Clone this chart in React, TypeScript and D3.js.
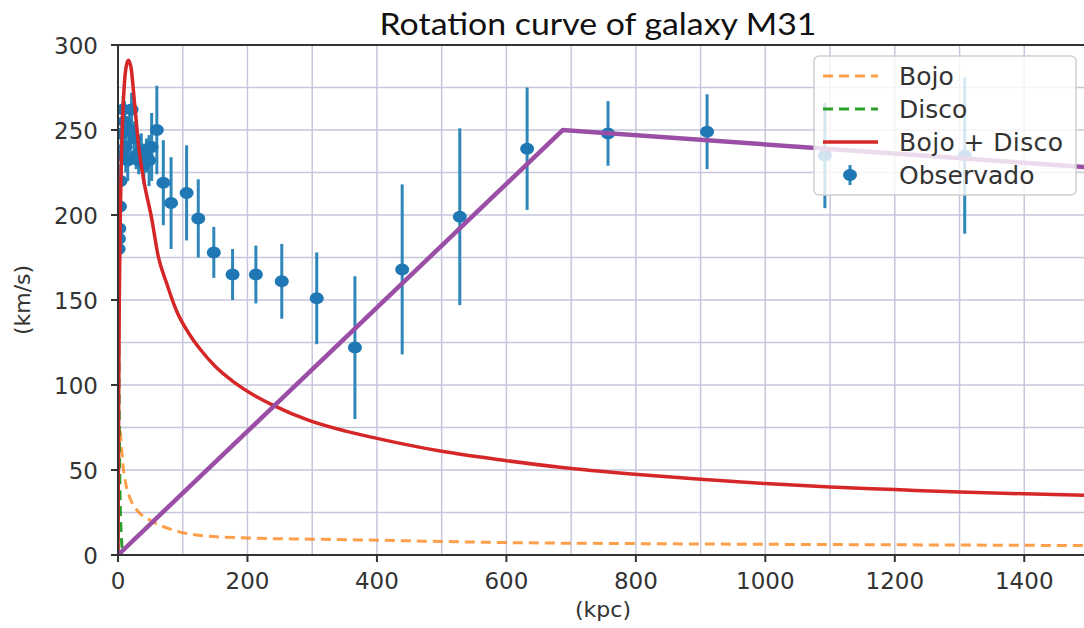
import * as d3 from "d3";
import React from "react";

// observed rotation speeds (kpc, km/s, error)
const obsR = [1, 1.5, 2, 3, 4, 5, 6, 8, 10, 12, 15, 18, 21, 25, 28, 32, 36, 40, 44, 48, 52, 60, 70, 82, 106, 124, 148, 177, 213, 253, 307, 366, 439, 528, 632, 757, 910, 1092, 1308];
const obsV = [180, 186, 192, 205, 220, 235, 248, 262, 255, 240, 232, 250, 262, 245, 235, 232, 238, 230, 235, 232, 240, 250, 219, 207, 213, 198, 178, 165, 165, 161, 151, 122, 168, 199, 239, 248, 249, 235, 235];
const obsErr = [5, 5, 6, 8, 10, 12, 10, 8, 12, 15, 12, 15, 10, 10, 8, 8, 10, 12, 10, 15, 20, 26, 25, 27, 28, 23, 15, 15, 17, 22, 27, 42, 50, 52, 36, 19, 22, 31, 46];

// bulge
const bojoR = [0, 0.5, 1, 2, 3, 5, 8, 12, 18, 29, 49, 85, 127, 200, 300, 400, 600, 800, 1000, 1200, 1400, 1500];
const bojoV = [0, 40, 60, 72, 74, 65, 52, 42, 34, 26.5, 20.6, 14.7, 11.5, 10, 9.3, 8.7, 7.3, 6.7, 6.3, 6, 5.7, 5.5];

// disc
const discoR = [0, 0.3, 0.6, 1, 1.5, 2, 3, 5, 8];
const discoV = [0, 120, 165, 150, 110, 80, 40, 12, 0];

// bulge + disc
const totalR = [0, 1, 2, 4, 7, 10, 13, 16, 20, 26, 32, 39, 52, 62, 75, 90, 110, 127, 150, 178, 210, 240, 296, 350, 400, 500, 590, 683, 798, 900, 1000, 1100, 1200, 1300, 1400, 1500];
const totalV = [0, 90, 150, 210, 255, 278, 288, 291, 287, 264, 240, 222, 198, 176, 160, 144, 130, 121, 111, 102, 94, 88, 79, 73, 68.6, 61, 56, 51.6, 47.5, 44.5, 42, 40, 38.5, 37, 36, 35];

// hand drawn overlay
const fitR = [0, 687, 1500];
const fitV = [0, 250, 228];

const xTicks = [0, 200, 400, 600, 800, 1000, 1200, 1400];
const yTicks = [0, 50, 100, 150, 200, 250, 300];
const xMinor = d3.range(0, 1501, 100);
const yMinor = d3.range(0, 301, 25);

const W = 1084;
const H = 628;
const left = 118;
const top = 45;
const bottom = 555;
const right = 1089;

export default function App() {
  const x = d3.scaleLinear().domain([0, 1500]).range([left, right]);
  const y = d3.scaleLinear().domain([0, 300]).range([bottom, top]);

  const mk = (rs: number[], vs: number[], smooth = true) =>
    d3
      .line<number>()
      .x((d, i) => x(rs[i]))
      .y((d, i) => y(vs[i]))
      .curve(smooth ? d3.curveMonotoneX : d3.curveLinear)(rs) || "";

  const tickFont = "DejaVu Sans, sans-serif";
  const gridColor = "#c6c6dc";
  const legendRows = [
    { label: "Bojo", kind: "orange" },
    { label: "Disco", kind: "green" },
    { label: "Bojo + Disco", kind: "red" },
    { label: "Observado", kind: "obs" },
  ];
  const lx = 814;
  const ly = 56;

  return (
    <svg width={W} height={H} style={{ position: "absolute", left: 0, top: 0, background: "#fff" }}>
      <defs>
        <clipPath id="plot">
          <rect x={left} y={top} width={right - left} height={bottom - top} />
        </clipPath>
      </defs>
      <text
        x={598}
        y={35}
        textAnchor="middle"
        fontFamily="Lato, sans-serif"
        fontSize={30}
        fill="#111"
        textLength={437}
        lengthAdjust="spacingAndGlyphs"
      >
        Rotation curve of galaxy M31
      </text>

      {/* grid */}
      <g stroke={gridColor} strokeWidth={1.5}>
        {xMinor.map((t) => (
          <line key={"gx" + t} x1={x(t)} x2={x(t)} y1={top} y2={bottom} />
        ))}
        {yMinor.map((t) => (
          <line key={"gy" + t} x1={left} x2={W} y1={y(t)} y2={y(t)} />
        ))}
      </g>

      <g clipPath="url(#plot)">
        {/* observed */}
        <g stroke="#2f86b8" strokeWidth={3}>
          {obsR.map((r, i) => (
            <line key={"e" + i} x1={x(r)} x2={x(r)} y1={y(obsV[i] - obsErr[i])} y2={y(obsV[i] + obsErr[i])} />
          ))}
        </g>
        <g fill="#1f77b4">
          {obsR.map((r, i) => (
            <ellipse key={"m" + i} cx={x(r)} cy={y(obsV[i])} rx={7} ry={6} />
          ))}
        </g>
        <path d={mk(bojoR, bojoV)} fill="none" stroke="#ff7f0e" strokeWidth={3} strokeDasharray="10,6" opacity={0.75} />
        <path d={mk(discoR, discoV)} fill="none" stroke="#2ca02c" strokeWidth={3} strokeDasharray="10,6" />
        <path d={mk(totalR, totalV)} fill="none" stroke="#d62728" strokeWidth={3.5} />
        <path d={mk(fitR, fitV, false)} fill="none" stroke="#9b4ea6" strokeWidth={4.5} />
      </g>

      {/* spines */}
      <g stroke="#333" strokeWidth={2}>
        <line x1={left} x2={left} y1={top} y2={bottom} />
        <line x1={left} x2={W} y1={bottom} y2={bottom} />
        <line x1={left} x2={W} y1={top} y2={top} />
      </g>

      {/* ticks */}
      <g fontFamily={tickFont} fontSize={23} fill="#333">
        {xTicks.map((t) => (
          <g key={"xt" + t}>
            <line x1={x(t)} x2={x(t)} y1={bottom} y2={bottom + 7} stroke="#333" strokeWidth={2} />
            <text x={x(t)} y={bottom + 34} textAnchor="middle">{t}</text>
          </g>
        ))}
        {yTicks.map((t) => (
          <g key={"yt" + t}>
            <line x1={left - 7} x2={left} y1={y(t)} y2={y(t)} stroke="#333" strokeWidth={2} />
            <text x={left - 20} y={y(t) + 9} textAnchor="end">{t}</text>
          </g>
        ))}
        <text x={603} y={617} textAnchor="middle" fontSize={22}>(kpc)</text>
        <text transform={`translate(30,${(top + bottom) / 2}) rotate(-90)`} textAnchor="middle" fontSize={22}>(km/s)</text>
      </g>

      {/* legend */}
      <g>
        <rect x={lx} y={ly} width={262} height={139} rx={5} fill="#fff" fillOpacity={0.8} stroke="#d0d0d0" strokeWidth={1.5} />
        {legendRows.map((row, i) => {
          const cy = 76 + i * 33;
          return (
            <g key={row.label}>
              {row.kind === "orange" && (
                <line x1={823} x2={878} y1={cy} y2={cy} stroke="#ff7f0e" strokeWidth={3} strokeDasharray="10,6" opacity={0.75} />
              )}
              {row.kind === "green" && (
                <line x1={823} x2={878} y1={cy} y2={cy} stroke="#2ca02c" strokeWidth={3} strokeDasharray="10,6" />
              )}
              {row.kind === "red" && <line x1={823} x2={878} y1={cy} y2={cy} stroke="#d62728" strokeWidth={3.5} />}
              {row.kind === "obs" && (
                <g>
                  <line x1={850} x2={850} y1={cy - 10} y2={cy + 10} stroke="#2f86b8" strokeWidth={3} />
                  <ellipse cx={850} cy={cy} rx={7} ry={6} fill="#1f77b4" />
                </g>
              )}
              <text x={899} y={cy + 9} fontFamily={tickFont} fontSize={25} fill="#333" textLength={row.label === "Bojo + Disco" ? 164 : undefined}>
                {row.label}
              </text>
            </g>
          );
        })}
      </g>
    </svg>
  );
}
